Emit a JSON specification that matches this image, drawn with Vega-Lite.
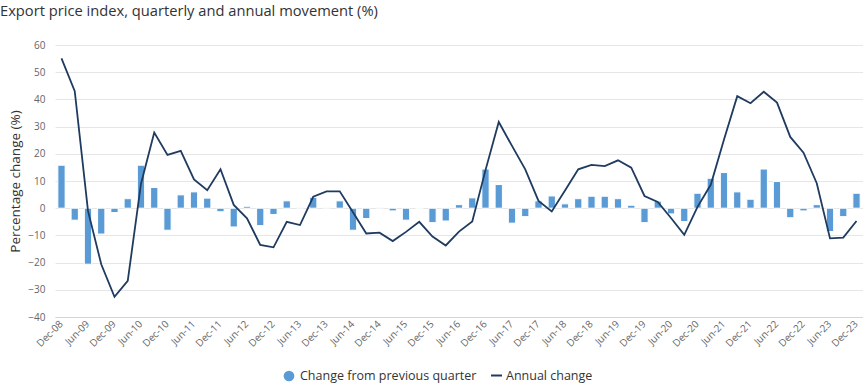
{
  "$schema": "https://vega.github.io/schema/vega-lite/v6.json",
  "width": 808,
  "height": 272,
  "autosize": {"type": "none"},
  "padding": {"left": 55, "top": 45, "right": 0, "bottom": 71},
  "background": "white",
  "title": {
    "text": "Export price index, quarterly and annual movement (%)",
    "anchor": "start",
    "frame": "group",
    "dx": -55,
    "offset": 21,
    "font": "Open Sans",
    "fontSize": 14.7,
    "fontWeight": "normal",
    "color": "#333333"
  },
  "config": {
    "view": {"stroke": null},
    "font": "Open Sans",
    "axis": {"labelFont": "Open Sans", "titleFont": "Open Sans"},
    "axisY": {
      "titleFontSize": 13.5,
      "titleFontWeight": "normal",
      "titleColor": "#333333",
      "titlePadding": 5,
      "labelOverlap": false,
      "labelFontSize": 10,
      "labelColor": "#666666",
      "labelPadding": 10,
      "ticks": false,
      "domain": false,
      "gridColor": "#e6e6e6"
    },
    "legend": {"labelFont": "Open Sans", "labelFontSize": 12.5, "labelColor": "#333333", "padding": 0, "labelLimit": 400}
  },
  "data": {
    "values": [
      {"quarter": "Dec-08", "quarterly": 15.8, "annual": 55.1},
      {"quarter": "Mar-09", "quarterly": -4.4, "annual": 43.0},
      {"quarter": "Jun-09", "quarterly": -20.6, "annual": -1.0},
      {"quarter": "Sep-09", "quarterly": -9.5, "annual": -20.6},
      {"quarter": "Dec-09", "quarterly": -1.6, "annual": -32.6},
      {"quarter": "Mar-10", "quarterly": 3.5, "annual": -26.7},
      {"quarter": "Jun-10", "quarterly": 15.8, "annual": 9.0},
      {"quarter": "Sep-10", "quarterly": 7.6, "annual": 27.8},
      {"quarter": "Dec-10", "quarterly": -8.1, "annual": 19.6},
      {"quarter": "Mar-11", "quarterly": 4.9, "annual": 21.1},
      {"quarter": "Jun-11", "quarterly": 6.0, "annual": 10.6},
      {"quarter": "Sep-11", "quarterly": 3.7, "annual": 6.6},
      {"quarter": "Dec-11", "quarterly": -1.3, "annual": 14.3},
      {"quarter": "Mar-12", "quarterly": -6.9, "annual": 1.2},
      {"quarter": "Jun-12", "quarterly": 0.7, "annual": -3.7},
      {"quarter": "Sep-12", "quarterly": -6.4, "annual": -13.5},
      {"quarter": "Dec-12", "quarterly": -2.3, "annual": -14.4},
      {"quarter": "Mar-13", "quarterly": 2.7, "annual": -5.0},
      {"quarter": "Jun-13", "quarterly": 0.2, "annual": -6.2},
      {"quarter": "Sep-13", "quarterly": 4.0, "annual": 4.2},
      {"quarter": "Dec-13", "quarterly": 0.2, "annual": 6.2},
      {"quarter": "Mar-14", "quarterly": 2.7, "annual": 6.2},
      {"quarter": "Jun-14", "quarterly": -8.1, "annual": -1.5},
      {"quarter": "Sep-14", "quarterly": -3.8, "annual": -9.3},
      {"quarter": "Dec-14", "quarterly": 0.2, "annual": -9.0},
      {"quarter": "Mar-15", "quarterly": -1.0, "annual": -12.1},
      {"quarter": "Jun-15", "quarterly": -4.4, "annual": -8.7},
      {"quarter": "Sep-15", "quarterly": -0.2, "annual": -5.0},
      {"quarter": "Dec-15", "quarterly": -5.3, "annual": -10.4},
      {"quarter": "Mar-16", "quarterly": -4.7, "annual": -13.7},
      {"quarter": "Jun-16", "quarterly": 1.3, "annual": -8.6},
      {"quarter": "Sep-16", "quarterly": 3.8, "annual": -4.9},
      {"quarter": "Dec-16", "quarterly": 14.4, "annual": 14.0},
      {"quarter": "Mar-17", "quarterly": 8.7, "annual": 31.7},
      {"quarter": "Jun-17", "quarterly": -5.5, "annual": 22.9},
      {"quarter": "Sep-17", "quarterly": -3.1, "annual": 14.3},
      {"quarter": "Dec-17", "quarterly": 2.7, "annual": 2.7},
      {"quarter": "Mar-18", "quarterly": 4.5, "annual": -1.2},
      {"quarter": "Jun-18", "quarterly": 1.6, "annual": 6.5},
      {"quarter": "Sep-18", "quarterly": 3.5, "annual": 14.3},
      {"quarter": "Dec-18", "quarterly": 4.4, "annual": 15.9},
      {"quarter": "Mar-19", "quarterly": 4.4, "annual": 15.5},
      {"quarter": "Jun-19", "quarterly": 3.5, "annual": 17.6},
      {"quarter": "Sep-19", "quarterly": 1.1, "annual": 14.9},
      {"quarter": "Dec-19", "quarterly": -5.3, "annual": 4.5},
      {"quarter": "Mar-20", "quarterly": 2.6, "annual": 2.3},
      {"quarter": "Jun-20", "quarterly": -2.1, "annual": -3.6},
      {"quarter": "Sep-20", "quarterly": -4.9, "annual": -9.8},
      {"quarter": "Dec-20", "quarterly": 5.5, "annual": 0.5},
      {"quarter": "Mar-21", "quarterly": 11.0, "annual": 8.6},
      {"quarter": "Jun-21", "quarterly": 13.1, "annual": 25.3},
      {"quarter": "Sep-21", "quarterly": 6.0, "annual": 41.2},
      {"quarter": "Dec-21", "quarterly": 3.3, "annual": 38.6},
      {"quarter": "Mar-22", "quarterly": 14.4, "annual": 42.8},
      {"quarter": "Jun-22", "quarterly": 9.8, "annual": 38.8},
      {"quarter": "Sep-22", "quarterly": -3.5, "annual": 26.2},
      {"quarter": "Dec-22", "quarterly": -1.0, "annual": 20.4},
      {"quarter": "Mar-23", "quarterly": 1.3, "annual": 9.2},
      {"quarter": "Jun-23", "quarterly": -8.6, "annual": -11.1},
      {"quarter": "Sep-23", "quarterly": -3.1, "annual": -10.8},
      {"quarter": "Dec-23", "quarterly": 5.5, "annual": -4.7}
    ]
  },
  "encoding": {
    "x": {
      "field": "quarter",
      "type": "ordinal",
      "sort": null,
      "scale": {"paddingInner": 0.45, "paddingOuter": 0.215},
      "axis": {
        "title": null,
        "values": ["Dec-08","Jun-09","Dec-09","Jun-10","Dec-10","Jun-11","Dec-11","Jun-12","Dec-12","Jun-13","Dec-13","Jun-14","Dec-14","Jun-15","Dec-15","Jun-16","Dec-16","Jun-17","Dec-17","Jun-18","Dec-18","Jun-19","Dec-19","Jun-20","Dec-20","Jun-21","Dec-21","Jun-22","Dec-22","Jun-23","Dec-23"],
        "labelAngle": -45,
        "labelAlign": "right",
        "labelBaseline": "middle",
        "labelFontSize": 10,
        "labelColor": "#666666",
        "labelPadding": 5,
        "ticks": false,
        "domainColor": "#ccd6eb",
        "grid": false
      }
    }
  },
  "layer": [
    {
      "mark": {"type": "bar", "stroke": "white", "strokeWidth": 1},
      "encoding": {
        "y": {
          "field": "quarterly",
          "type": "quantitative",
          "scale": {"domain": [-40, 60], "nice": false},
          "axis": {"title": "Percentage change (%)", "values": [-40,-30,-20,-10,0,10,20,30,40,50,60]}
        },
        "fill": {
          "datum": "Change from previous quarter",
          "scale": {"range": ["#5b9bd5"]},
          "legend": {"title": null, "orient": "none", "legendX": 227, "legendY": 324, "symbolType": "circle", "symbolSize": 150}
        }
      }
    },
    {
      "mark": {"type": "rule", "color": "#999999", "strokeWidth": 1, "strokeDash": [6, 3]},
      "encoding": {"y": {"datum": 0, "axis": {"title": "Percentage change (%)", "values": [-40,-30,-20,-10,0,10,20,30,40,50,60]}}}
    },
    {
      "mark": {"type": "line", "strokeWidth": 1.8},
      "encoding": {
        "y": {"field": "annual", "type": "quantitative", "axis": {"title": "Percentage change (%)", "values": [-40,-30,-20,-10,0,10,20,30,40,50,60]}},
        "stroke": {
          "datum": "Annual change",
          "scale": {"range": ["#1f3b5f"]},
          "legend": {"title": null, "orient": "none", "legendX": 435, "legendY": 324, "symbolType": "stroke", "symbolSize": 120, "symbolStrokeWidth": 2, "labelOffset": 3}
        }
      }
    }
  ]
}
